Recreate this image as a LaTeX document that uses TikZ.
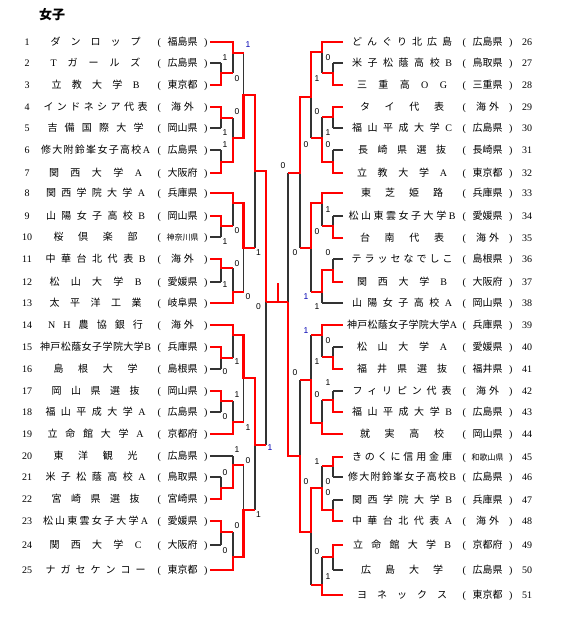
\documentclass[tikz,border=0pt]{standalone}
\usepackage{fontspec}
\setmainfont{Liberation Serif}
\newfontfamily\cjk{Noto Sans CJK JP}
\newfontfamily\lat{Liberation Serif}
\newfontfamily\scf{Liberation Sans}
\tikzset{
  blk/.style={draw=black!80, line width=1.2pt},
  rd/.style={draw=red, line width=2.8pt},
  num/.style={font=\fontsize{10}{10}\selectfont, inner sep=0pt, anchor=base},
  nm/.style={font=\cjk\fontsize{10}{10}\selectfont, inner sep=0pt, anchor=base},
  sc/.style={font=\scf\fontsize{8.5}{8.5}\selectfont, inner sep=0pt},
  scb/.style={sc, text=blue!70!black},
}
\newcommand\La[1]{{\lat #1}}
\newcommand\spreadbox[2]{\makebox[#1pt][s]{\spaceskip=0pt plus 1fil\relax #2}}
% #1 index, #2 y, #3 width, #4 name, #5 prefecture
\newcommand\teamL[5]{%
  \node[num] (nL#1) at (27,#2+3.6) {#1};
  \node[nm] (tL#1) at (95.5,#2+3.6) {\spreadbox{#3}{#4}};
  \node[nm] (pL#1) at (182.5,#2+3.6) {\makebox[50pt]{\La{(}\hfill #5\hfill\La{)}}};
  \coordinate (eL#1) at (210,#2);
}
\newcommand\teamR[5]{%
  \node[num] (nR#1) at (527,#2+3.6) {#1};
  \node[nm] (tR#1) at (402,#2+3.6) {\spreadbox{#3}{#4}};
  \node[nm] (pR#1) at (487.5,#2+3.6) {\makebox[50pt]{\La{(}\hfill #5\hfill\La{)}}};
  \coordinate (eR#1) at (343,#2);
}
\newcommand\sm[1]{{\fontsize{8}{8}\selectfont #1}}
\newcommand\kaigai{海\hspace{3pt}外}
\begin{document}
\begin{tikzpicture}[x=1pt,y=-1pt]
\useasboundingbox (0,0) rectangle (561,617);
\node[font=\cjk\bfseries\fontsize{13}{13}\selectfont, anchor=west, inner sep=0pt] (title) at (39,15) {女子};

% ---------------- left teams
\teamL{1}{42}{90}{ダ ン ロ ッ プ}{福島県}
\teamL{2}{63}{90}{\La{T} ガ ー ル ズ}{広島県}
\teamL{3}{85}{88}{立 教 大 学 \La{B}}{東京都}
\teamL{4}{107}{104}{イ ン ド ネ シ ア 代 表}{\kaigai}
\teamL{5}{128}{96}{吉 備 国 際 大 学}{岡山県}
\teamL{6}{150}{109}{修 大 附 鈴 峯 女 子 高 校 \La{A}}{広島県}
\teamL{7}{173}{93}{関 西 大 学 \La{A}}{大阪府}
\teamL{8}{193}{99}{関 西 学 院 大 学 \La{A}}{兵庫県}
\teamL{9}{216}{99}{山 陽 女 子 高 校 \La{B}}{岡山県}
\teamL{10}{237}{84}{桜 倶 楽 部}{\sm{神奈川県}}
\teamL{11}{259}{100}{中 華 台 北 代 表 \La{B}}{\kaigai}
\teamL{12}{282}{92}{松 山 大 学 \La{B}}{愛媛県}
\teamL{13}{303}{92}{太 平 洋 工 業}{岐阜県}
\teamL{14}{325}{95}{\La{N} \La{H} 農 協 銀 行}{\kaigai}
\teamL{15}{347}{111}{神 戸 松 蔭 女 子 学 院 大 学 \La{B}}{兵庫県}
\teamL{16}{369}{84}{島 根 大 学}{島根県}
\teamL{17}{391}{88}{岡 山 県 選 抜}{岡山県}
\teamL{18}{412}{100}{福 山 平 成 大 学 \La{A}}{広島県}
\teamL{19}{434}{96}{立 命 館 大 学 \La{A}}{京都府}
\teamL{20}{456}{84}{東 洋 観 光}{広島県}
\teamL{21}{477}{100}{米 子 松 蔭 高 校 \La{A}}{鳥取県}
\teamL{22}{499}{88}{宮 崎 県 選 抜}{宮崎県}
\teamL{23}{521}{105}{松 山 東 雲 女 子 大 学 \La{A}}{愛媛県}
\teamL{24}{545}{92}{関 西 大 学 \La{C}}{大阪府}
\teamL{25}{570}{100}{ナ ガ セ ケ ン コ ー}{東京都}

% ---------------- right teams
\teamR{26}{42}{100}{ど ん ぐ り 北 広 島}{広島県}
\teamR{27}{63}{100}{米 子 松 蔭 高 校 \La{B}}{鳥取県}
\teamR{28}{85}{90}{三 重 高 \La{O} \La{G}}{三重県}
\teamR{29}{107}{84}{タ イ 代 表}{\kaigai}
\teamR{30}{128}{100}{福 山 平 成 大 学 \La{C}}{広島県}
\teamR{31}{150}{88}{長 崎 県 選 抜}{長崎県}
\teamR{32}{173}{90}{立 教 大 学 \La{A}}{東京都}
\teamR{33}{193}{82}{東 芝 姫 路}{兵庫県}
\teamR{34}{216}{107}{松 山 東 雲 女 子 大 学 \La{B}}{愛媛県}
\teamR{35}{238}{84}{台 南 代 表}{\kaigai}
\teamR{36}{259}{101}{テ ラ ッ セ な で し こ}{島根県}
\teamR{37}{282}{90}{関 西 大 学 \La{B}}{大阪府}
\teamR{38}{303}{100}{山 陽 女 子 高 校 \La{A}}{岡山県}
\teamR{39}{325}{110}{神 戸 松 蔭 女 子 学 院 大 学 \La{A}}{兵庫県}
\teamR{40}{347}{90}{松 山 大 学 \La{A}}{愛媛県}
\teamR{41}{369}{90}{福 井 県 選 抜}{福井県}
\teamR{42}{391}{99}{フ ィ リ ピ ン 代 表}{\kaigai}
\teamR{43}{412}{100}{福 山 平 成 大 学 \La{B}}{広島県}
\teamR{44}{434}{84}{就 実 高 校}{岡山県}
\teamR{45}{457}{100}{き の く に 信 用 金 庫}{\sm{和歌山県}}
\teamR{46}{477}{108}{修 大 附 鈴 峯 女 子 高 校 \La{B}}{広島県}
\teamR{47}{500}{100}{関 西 学 院 大 学 \La{B}}{兵庫県}
\teamR{48}{521}{100}{中 華 台 北 代 表 \La{A}}{\kaigai}
\teamR{49}{545}{98}{立 命 館 大 学 \La{B}}{京都府}
\teamR{50}{570}{82}{広 島 大 学}{広島県}
\teamR{51}{595}{90}{ヨ ネ ッ ク ス}{東京都}

% ---------------- black bracket, left
\draw[blk] (eL2)--(221,63) (eL5)--(221,128) (eL6)--(221,150) (eL10)--(221,237)
  (eL12)--(221,282) (eL16)--(221,369) (eL18)--(221,412) (eL20)--(233,456)
  (eL21)--(221,477) (eL24)--(221,545);
\draw[blk] (221,63)--(221,85) (221,107)--(221,128) (221,150)--(221,173)
  (221,216)--(221,237) (221,259)--(221,282) (221,347)--(221,369)
  (221,391)--(221,412) (221,477)--(221,499) (221,521)--(221,545);
\draw[blk] (233,42)--(233,73) (233,118)--(233,162) (233,193)--(233,226)
  (233,268)--(233,303) (233,325)--(233,358) (233,401)--(233,434)
  (233,456)--(233,488) (233,532)--(233,570);
\draw[blk] (243.5,53)--(243.5,138) (243.5,203)--(243.5,292) (243.5,335)--(243.5,422) (243.5,465)--(243.5,557);
\draw[blk] (255,95)--(255,248) (255,378)--(255,510);
\draw[blk] (266,171)--(266,445);

% ---------------- black bracket, right
\draw[blk] (eR27)--(333,63) (eR30)--(333,128) (eR31)--(333,150) (eR34)--(333,216)
  (eR36)--(333,259) (eR38)--(322,303) (eR40)--(333,347) (eR42)--(333,391)
  (eR46)--(333,477) (eR47)--(333,500) (eR50)--(333,570);
\draw[blk] (333,63)--(333,85) (333,107)--(333,128) (333,150)--(333,173)
  (333,216)--(333,238) (333,259)--(333,282) (333,347)--(333,369)
  (333,391)--(333,412) (333,457)--(333,477) (333,500)--(333,521) (333,545)--(333,570);
\draw[blk] (322,42)--(322,73) (322,117)--(322,162) (322,193)--(322,226)
  (322,270)--(322,303) (322,325)--(322,357) (322,400)--(322,434)
  (322,466)--(322,510) (322,557)--(322,595);
\draw[blk] (311,52)--(311,138) (311,203)--(311,292) (311,335)--(311,423) (311,488)--(311,585);
\draw[blk] (300,97)--(300,248) (300,380)--(300,532);
\draw[blk] (288,173)--(288,456);

% ---------------- red winner paths, left
\draw[rd] (eL1)--(233,42)--(233,53)--(243.5,53);
\draw[rd] (eL3)--(221,85)--(221,73)--(233,73);
\draw[rd] (eL4)--(221,107)--(221,118)--(233,118);
\draw[rd] (eL7)--(221,173)--(221,162)--(233,162)--(233,138)--(243.5,138)--(243.5,95)--(255,95)--(255,171)--(266,171)--(266,302);
\draw[rd] (eL8)--(233,193)--(233,203)--(243.5,203)--(243.5,248)--(255,248);
\draw[rd] (eL9)--(221,216)--(221,226)--(233,226);
\draw[rd] (eL11)--(221,259)--(221,268)--(233,268);
\draw[rd] (eL13)--(233,303)--(233,292)--(243.5,292);
\draw[rd] (eL14)--(233,325)--(233,335)--(243.5,335)--(243.5,378)--(255,378)--(255,445)--(266,445);
\draw[rd] (eL15)--(221,347)--(221,358)--(233,358);
\draw[rd] (eL17)--(221,391)--(221,401)--(233,401);
\draw[rd] (eL19)--(233,434)--(233,422)--(243.5,422);
\draw[rd] (eL22)--(221,499)--(221,488)--(233,488)--(233,465)--(243.5,465);
\draw[rd] (eL23)--(221,521)--(221,532)--(233,532);
\draw[rd] (eL25)--(233,570)--(233,557)--(243.5,557)--(243.5,510)--(255,510);

% ---------------- red winner paths, right
\draw[rd] (eR26)--(322,42)--(322,52)--(311,52)--(311,97)--(300,97)--(300,173)--(288,173);
\draw[rd] (eR28)--(333,85)--(333,73)--(322,73);
\draw[rd] (eR29)--(333,107)--(333,117)--(322,117);
\draw[rd] (eR32)--(333,173)--(333,162)--(322,162)--(322,138)--(311,138);
\draw[rd] (eR33)--(322,193)--(322,203)--(311,203)--(311,248)--(300,248);
\draw[rd] (eR35)--(333,238)--(333,226)--(322,226);
\draw[rd] (eR37)--(333,282)--(333,270)--(322,270)--(322,292)--(311,292);
\draw[rd] (eR39)--(322,325)--(322,335)--(311,335);
\draw[rd] (eR41)--(333,369)--(333,357)--(322,357);
\draw[rd] (eR43)--(333,412)--(333,400)--(322,400);
\draw[rd] (eR44)--(322,434)--(322,423)--(311,423)--(311,380)--(300,380);
\draw[rd] (eR45)--(333,457)--(333,466)--(322,466);
\draw[rd] (eR48)--(333,521)--(333,510)--(322,510)--(322,488)--(311,488)--(311,532)--(300,532)--(300,456)--(288,456)--(288,302);
\draw[rd] (eR49)--(333,545)--(333,557)--(322,557);
\draw[rd] (eR51)--(322,595)--(322,585)--(311,585);

% ---------------- final
\coordinate (fL) at (266,302);
\coordinate (fR) at (288,302);
\coordinate (champ) at (278,283);
\draw[rd] (fL)--(fR);
\draw[rd] (278,302)--(champ);

% ---------------- scores, left
\node[scb] (a1) at (248,45) {1};
\node[sc] (a2) at (225,58) {1};
\node[sc] (a3) at (237,79) {0};
\node[sc] (a4) at (237,112) {0};
\node[sc] (a5) at (225,133) {1};
\node[sc] (a6) at (225,145) {1};
\node[sc] (a7) at (237,231) {0};
\node[sc] (a8) at (225,242) {1};
\node[sc] (a9) at (258.5,253) {1};
\node[sc] (a10) at (237,264) {0};
\node[sc] (a11) at (225,285) {1};
\node[sc] (a12) at (248,297) {0};
\node[sc] (a13) at (258.5,307) {0};
\node[sc] (a14) at (237,362) {1};
\node[sc] (a15) at (225,372) {0};
\node[sc] (a16) at (237,395) {1};
\node[sc] (a17) at (225,417) {0};
\node[sc] (a18) at (248,428) {1};
\node[scb] (a19) at (270,448) {1};
\node[sc] (a20) at (237,450) {1};
\node[sc] (a21) at (248,461) {0};
\node[sc] (a22) at (225,473) {0};
\node[sc] (a23) at (258.5,515) {1};
\node[sc] (a24) at (237,526) {0};
\node[sc] (a25) at (225,551) {0};

% ---------------- scores, right
\node[sc] (b1) at (328,58) {0};
\node[sc] (b2) at (317,79) {1};
\node[sc] (b3) at (317,112) {0};
\node[sc] (b4) at (328,133) {1};
\node[sc] (b5) at (328,145) {0};
\node[sc] (b6) at (306,145) {0};
\node[sc] (b7) at (283,166) {0};
\node[sc] (b8) at (328,210) {1};
\node[sc] (b9) at (317,232) {0};
\node[sc] (b10) at (295,253) {0};
\node[sc] (b11) at (328,253) {0};
\node[scb] (b12) at (306,297) {1};
\node[sc] (b13) at (317,307) {1};
\node[scb] (b14) at (306,331) {1};
\node[sc] (b15) at (328,341) {0};
\node[sc] (b16) at (317,362) {1};
\node[sc] (b17) at (295,373) {0};
\node[sc] (b18) at (328,383) {1};
\node[sc] (b19) at (317,395) {0};
\node[sc] (b20) at (317,462) {1};
\node[sc] (b21) at (306,482) {0};
\node[sc] (b22) at (328,482) {0};
\node[sc] (b23) at (328,493) {0};
\node[sc] (b24) at (317,552) {0};
\node[sc] (b25) at (328,577) {1};
\end{tikzpicture}
\end{document}
